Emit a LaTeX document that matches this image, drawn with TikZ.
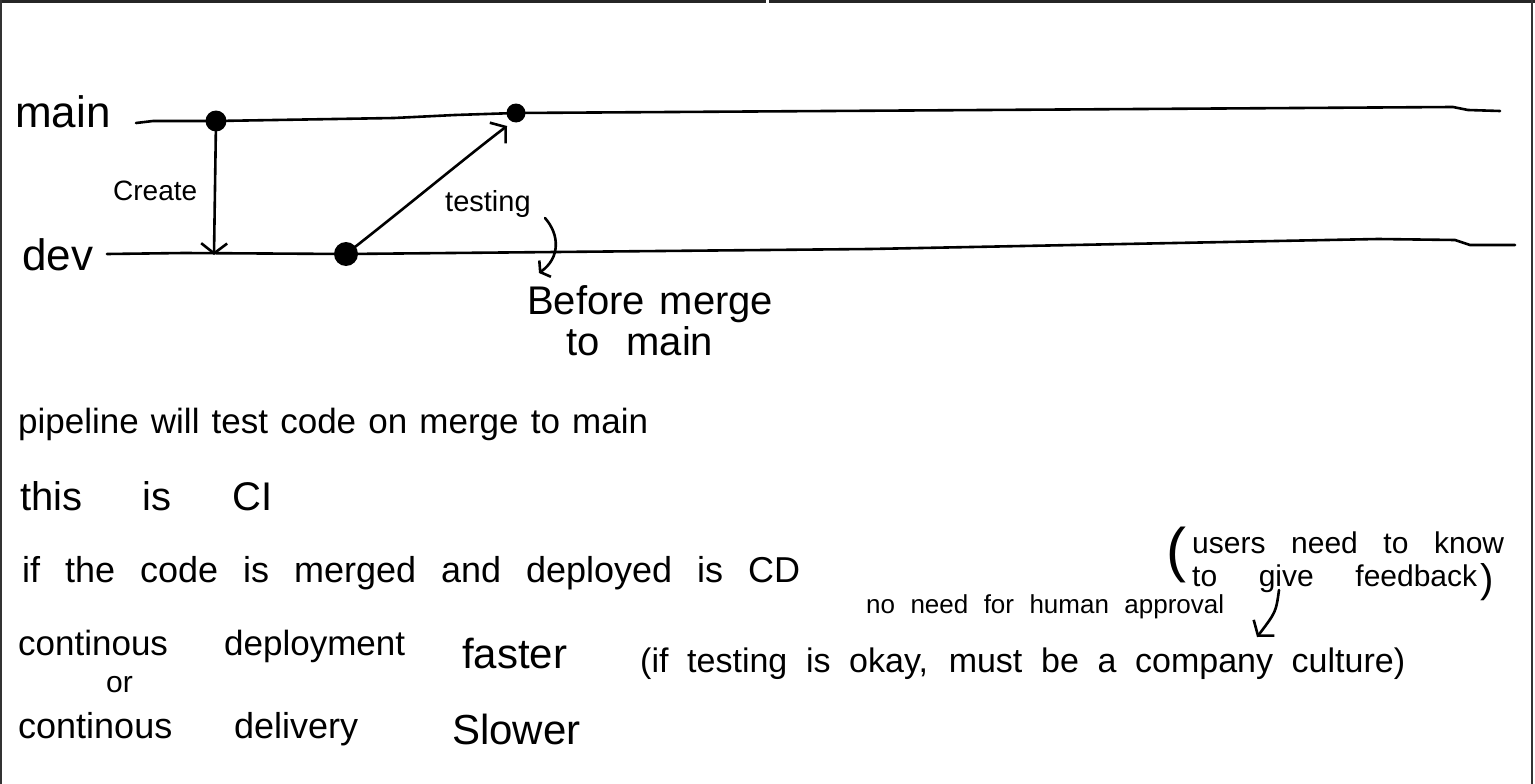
\documentclass[tikz,border=0pt]{standalone}
\usepackage{fontspec}
\setmainfont{Liberation Sans}
\usetikzlibrary{arrows.meta}
\newcommand{\hwline}[2]{\hbox to #1{\spaceskip=0.3em plus 1fil\relax #2}}
\newcommand{\fs}[1]{\fontsize{#1}{#1}\selectfont}
\begin{document}
\begin{tikzpicture}[x=1pt,y=-1pt,line cap=round,line join=round,
  stroke/.style={line width=2.6pt},
  dot/.style={circle,fill=black,inner sep=0pt},
  txt/.style={inner sep=0pt,anchor=base west},
  tip/.style={-{Straight Barb[length=10pt,width=26pt]}}]
\useasboundingbox (0,0) rectangle (1535,784);
\fill[white] (0,0) rectangle (1535,784);
% frame
\fill[black!85] (0,0) rectangle (1535,3);
\fill[white] (766,0) rectangle (769,3);
\draw[black!80,line width=1.6pt] (0.8,0) -- (0.8,784);
\draw[black!80,line width=2pt] (1532,0) -- (1532,784);
% branch labels
\node[txt,font=\fs{44}] (main) at (15,128) {main};
\node[txt,font=\fs{44}] (dev) at (22,270) {dev};
% commit dots
\node[dot,minimum size=21pt] (d1) at (216,121) {};
\node[dot,minimum size=19pt] (d2) at (516,113) {};
\node[dot,minimum size=24pt] (d3) at (346,254) {};
% main line
\coordinate (ms) at (136,123);
\coordinate (me) at (1500,111);
\draw[stroke] (ms) -- (153,121) -- (d1.center) -- (394,118) -- (455,115) -- (d2.center) -- (1453,107) -- (1468,110) -- (me);
% dev line
\coordinate (ds) at (107,254);
\coordinate (de) at (1515,245);
\draw[stroke] (ds) -- (184,253) -- (d3.center) -- (870,249) -- (1378,239) -- (1455,240) -- (1470,245) -- (de);
% create arrow
\coordinate (a1) at (214,255);
\draw[stroke,tip] (d1.center) -- (a1);
\node[txt,font=\fs{28}] (create) at (113,200) {Create};
% testing arrow
\coordinate (a2) at (507,126);
\draw[stroke,tip] (d3.center) .. controls (400,212) and (465,158) .. (a2);
\node[txt,font=\fs{29}] (testing) at (445,211) {testing};
% bracket to "Before merge"
\coordinate (b1) at (545,218);
\coordinate (b2) at (539,273);
\draw[stroke,-{Straight Barb[length=6pt,width=20pt]}] (b1) .. controls (560,235) and (560,258) .. (b2);
\node[txt,font=\fs{40}] (before) at (527,314) {\hwline{246pt}{Before merge}};
\node[txt,font=\fs{40}] (tomain) at (566,355) {\hwline{147pt}{to main}};
% notes
\node[txt,font=\fs{35}] (l1) at (18,433) {\hwline{630pt}{pipeline will test code on merge to main}};
\node[txt,font=\fs{40}] (l2) at (20,510) {\hwline{252pt}{this is CI}};
\node[txt,font=\fs{36}] (l3) at (22,582) {\hwline{778pt}{if the code is merged and deployed is CD}};
\node[txt,font=\fs{26}] (l4) at (866,613) {\hwline{358pt}{no need for human approval}};
\node[txt,font=\fs{60}] (po) at (1166,570) {(};
\node[txt,font=\fs{30}] (u1t) at (1192,553) {\hwline{312pt}{users need to know}};
\node[txt,font=\fs{30}] (u2t) at (1192,586) {\hwline{285pt}{to give feedback}};
\node[txt,font=\fs{40}] (pc) at (1480,592) {)};
\coordinate (u1) at (1279,590);
\coordinate (u2) at (1257,637);
\draw[stroke,tip] (u1) .. controls (1276,612) .. (u2);
\node[txt,font=\fs{35}] (l5) at (18,655) {\hwline{387pt}{continous deployment}};
\node[txt,font=\fs{30}] (or) at (106,692) {or};
\node[txt,font=\fs{36}] (l6) at (18,738) {\hwline{340pt}{continous delivery}};
\node[txt,font=\fs{42}] (faster) at (462,668) {faster};
\node[txt,font=\fs{42}] (slower) at (452,744) {Slower};
\node[txt,font=\fs{34}] (l7) at (640,672) {\hwline{765pt}{(if testing is okay, must be a company culture)}};
\end{tikzpicture}
\end{document}
